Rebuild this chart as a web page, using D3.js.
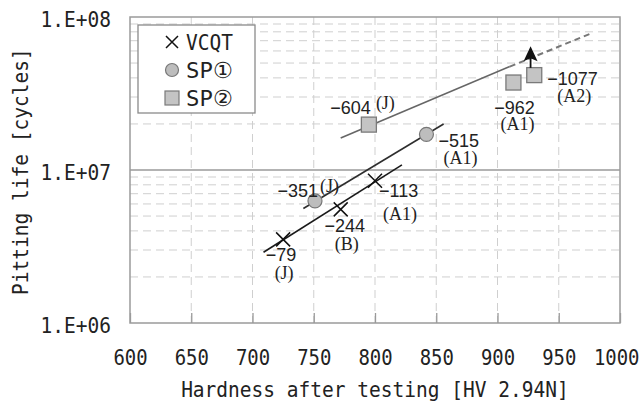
<!DOCTYPE html>
<meta charset="utf-8">
<style>
body { margin: 0; background: #fff; }
.mono { font-family: "DejaVu Sans Mono", monospace; font-size: 22px; fill: #222; }
.num { font-family: "Liberation Sans", Arial, sans-serif; font-size: 18px; fill: #222; }
.code { font-family: "Liberation Serif", "Times New Roman", serif; font-size: 18px; fill: #222; }
.grid line { stroke: #cfcfcf; stroke-width: 1; stroke-dasharray: 8,5; }
</style>
<svg width="642" height="401"></svg>
<script src="https://d3js.org/d3.v7.min.js"></script>
<script>

// axis ticks
var hvTicks = [600, 650, 700, 750, 800, 850, 900, 950, 1000];
var lifeTicks = [1e6, 1e7, 1e8];

// VCQT
var vcqtHV = [725, 772, 800];
var vcqtLife = [3.52e6, 5.53e6, 8.5e6];
var vcqtNum = ["\u221279", "\u2212244", "\u2212113"];
var vcqtCode = ["(J)", "(B)", "(A1)"];
var vcqtFitHV = [709, 822];
var vcqtFitLife = [2.9e6, 1.08e7];

// SP1
var sp1HV = [751, 842];
var sp1Life = [6.28e6, 1.71e7];
var sp1Num = ["\u2212351", "\u2212515"];
var sp1Code = ["(J)", "(A1)"];
var sp1FitHV = [741.5, 856];
var sp1FitLife = [5.6e6, 2.0e7];

// SP2
var sp2HV = [795, 913, 930];
var sp2Life = [1.98e7, 3.73e7, 4.17e7];
var sp2Num = ["\u2212604", "\u2212962", "\u22121077"];
var sp2Code = ["(J)", "(A1)", "(A2)"];
var sp2FitHV = [772, 910];
var sp2FitLife = [1.62e7, 4.74e7];
var sp2ExtHV = [910, 975];
var sp2ExtLife = [4.74e7, 7.73e7];

// run-out arrow on the last SP2 point
var arrowHV = 927;
var arrowLife = [4.65e7, 6.45e7];

// label placement (pixels from the point): [dx, dy, anchor]
var vcqtNumPos = [[-2, 22, "middle"], [4, 23, "middle"], [4, 16.5, "start"]];
var vcqtCodePos = [[1, 39.5, "middle"], [6, 40.5, "middle"], [8, 39, "start"]];
var sp1NumPos = [[3, -4, "end"], [12, 12.6, "start"]];
var sp1CodePos = [[5, -9, "start"], [17, 29.5, "start"]];
var sp2NumPos = [[2, -11, "end"], [1, 31, "middle"], [13, 10, "start"]];
var sp2CodePos = [[7, -16, "start"], [4, 47.5, "middle"], [23, 26.5, "start"]];

var svg = d3.select("svg"),
    pL = 130, pR = 620, pT = 17, pB = 323,
    cw = 11.75;   // char width of the narrow gothic font

var x = d3.scaleLinear().domain([600, 1000]).range([pL, pR]);
var y = d3.scaleLog().domain([1e6, 1e8]).range([pB, pT]);

function squeeze(sel, n, w) {
  sel.each(function() {
    var t = d3.select(this);
    t.attr("textLength", (n || t.text().length) * (w || cw)).attr("lengthAdjust", "spacingAndGlyphs");
  });
}

// grid
var minor = [];
[1e6, 1e7].forEach(function(d) { for (var k = 2; k <= 9; k++) minor.push(d * k); });

var grid = svg.append("g").attr("class", "grid");
grid.selectAll(".h").data(minor).enter().append("line")
    .attr("x1", pL).attr("x2", pR)
    .attr("y1", function(d) { return y(d); }).attr("y2", function(d) { return y(d); });
grid.selectAll(".v").data(hvTicks.slice(1, -1)).enter().append("line")
    .attr("y1", pT).attr("y2", pB)
    .attr("x1", function(d) { return x(d); }).attr("x2", function(d) { return x(d); });

svg.append("line")
    .attr("x1", pL).attr("x2", pR)
    .attr("y1", y(1e7)).attr("y2", y(1e7))
    .attr("stroke", "#9a9a9a").attr("stroke-width", 1.3);

// axes
var xAxis = svg.append("g")
    .attr("transform", "translate(0," + pB + ")")
    .call(d3.axisBottom(x).tickValues(hvTicks).tickSize(-10).tickFormat(d3.format("d")));
xAxis.select(".domain").remove();
xAxis.selectAll("line").attr("stroke", "#9a9a9a").attr("stroke-width", 1.3);
xAxis.selectAll("text").attr("class", "mono").attr("y", 42).attr("dy", null)
    .call(squeeze, 0, 11.4);
// last label would run off the right edge: pin its end inside the page
xAxis.selectAll("text").filter(function(d) { return d === 1000; })
    .attr("text-anchor", "end").attr("x", 19);

var yAxis = svg.append("g")
    .attr("transform", "translate(" + pL + ",0)")
    .call(d3.axisLeft(y).tickValues(lifeTicks).tickSize(0).tickPadding(19)
      .tickFormat(function(d) { return "1.E+0" + Math.round(Math.log10(d)); }));
yAxis.select(".domain").remove();
yAxis.selectAll("text").attr("class", "mono").attr("dy", 9.5).call(squeeze);

svg.append("rect")
    .attr("x", pL).attr("y", pT)
    .attr("width", pR - pL).attr("height", pB - pT)
    .attr("fill", "none").attr("stroke", "#9a9a9a").attr("stroke-width", 1.5);

// axis titles
svg.append("text").attr("class", "mono")
    .attr("x", 375).attr("y", 397).attr("text-anchor", "middle")
    .text("Hardness after testing [HV 2.94N]").call(squeeze);

svg.append("text").attr("class", "mono")
    .attr("transform", "translate(28,171.5) rotate(-90)")
    .attr("text-anchor", "middle")
    .text("Pitting life [cycles]").call(squeeze);

// legend
var lg = svg.append("g");
lg.append("rect").attr("x", 138).attr("y", 25).attr("width", 117).attr("height", 88)
    .attr("fill", "#fff").attr("stroke", "#8a8a8a").attr("stroke-width", 1.3);
lg.append("path").attr("d", "M166,36L178,48M178,36L166,48")
    .attr("stroke", "#111").attr("stroke-width", 1.5);
lg.append("circle").attr("cx", 172).attr("cy", 70).attr("r", 6.5)
    .attr("fill", "#bdbdbd").attr("stroke", "#777").attr("stroke-width", 1.2);
lg.append("rect").attr("x", 165).attr("y", 91).attr("width", 14).attr("height", 14)
    .attr("fill", "#c4c4c4").attr("stroke", "#7a7a7a").attr("stroke-width", 1.2);
[["VCQT", 50], ["SP\u2460", 78], ["SP\u2461", 106]].forEach(function(d) {
  lg.append("text").attr("class", "mono").attr("x", 186).attr("y", d[1])
    .text(d[0]).call(squeeze, 4);
});

// fit lines
var line = d3.line().x(function(d) { return x(d[0]); }).y(function(d) { return y(d[1]); });
function pairs(a, b) { return a.map(function(v, i) { return [v, b[i]]; }); }

svg.append("path").attr("d", line(pairs(vcqtFitHV, vcqtFitLife)))
    .attr("stroke", "#1a1a1a").attr("stroke-width", 1.6).attr("fill", "none");
svg.append("path").attr("d", line(pairs(sp1FitHV, sp1FitLife)))
    .attr("stroke", "#2e2e2e").attr("stroke-width", 1.6).attr("fill", "none");
svg.append("path").attr("d", line(pairs(sp2FitHV, sp2FitLife)))
    .attr("stroke", "#666").attr("stroke-width", 1.6).attr("fill", "none");
svg.append("path").attr("d", line(pairs(sp2ExtHV, sp2ExtLife)))
    .attr("stroke", "#777").attr("stroke-width", 2).attr("stroke-dasharray", "6,4").attr("fill", "none");

// markers
svg.selectAll(".vcqt").data(pairs(vcqtHV, vcqtLife)).enter().append("path")
    .attr("d", function(d) {
      var cx = x(d[0]), cy = y(d[1]), s = 7;
      return "M" + (cx - s) + "," + (cy - s) + "L" + (cx + s) + "," + (cy + s) +
             "M" + (cx + s) + "," + (cy - s) + "L" + (cx - s) + "," + (cy + s);
    })
    .attr("stroke", "#111").attr("stroke-width", 1.5);

svg.selectAll(".sp1").data(pairs(sp1HV, sp1Life)).enter().append("circle")
    .attr("cx", function(d) { return x(d[0]); })
    .attr("cy", function(d) { return y(d[1]); })
    .attr("r", 7)
    .attr("fill", "#bdbdbd").attr("stroke", "#777").attr("stroke-width", 1.2);

svg.selectAll(".sp2").data(pairs(sp2HV, sp2Life)).enter().append("rect")
    .attr("x", function(d) { return x(d[0]) - 7.5; })
    .attr("y", function(d) { return y(d[1]) - 7.5; })
    .attr("width", 15).attr("height", 15)
    .attr("fill", "#c4c4c4").attr("stroke", "#7a7a7a").attr("stroke-width", 1.3);

// arrow
var ax = x(arrowHV), ay0 = y(arrowLife[0]), ay1 = y(arrowLife[1]);
svg.append("line").attr("x1", ax).attr("x2", ax).attr("y1", ay0).attr("y2", ay1 + 10)
    .attr("stroke", "#111").attr("stroke-width", 1.8);
svg.append("path")
    .attr("d", "M" + ax + "," + ay1 + "L" + (ax + 7) + "," + (ay1 + 15) + "L" + ax + "," + (ay1 + 12) +
               "L" + (ax - 7) + "," + (ay1 + 15) + "Z")
    .attr("fill", "#111");

// labels
function labels(hv, life, texts, pos, cls) {
  texts.forEach(function(t, i) {
    svg.append("text").attr("class", cls)
      .attr("x", x(hv[i]) + pos[i][0])
      .attr("y", y(life[i]) + pos[i][1])
      .attr("text-anchor", pos[i][2])
      .text(t);
  });
}
labels(vcqtHV, vcqtLife, vcqtNum, vcqtNumPos, "num");
labels(vcqtHV, vcqtLife, vcqtCode, vcqtCodePos, "code");
labels(sp1HV, sp1Life, sp1Num, sp1NumPos, "num");
labels(sp1HV, sp1Life, sp1Code, sp1CodePos, "code");
labels(sp2HV, sp2Life, sp2Num, sp2NumPos, "num");
labels(sp2HV, sp2Life, sp2Code, sp2CodePos, "code");

</script>
